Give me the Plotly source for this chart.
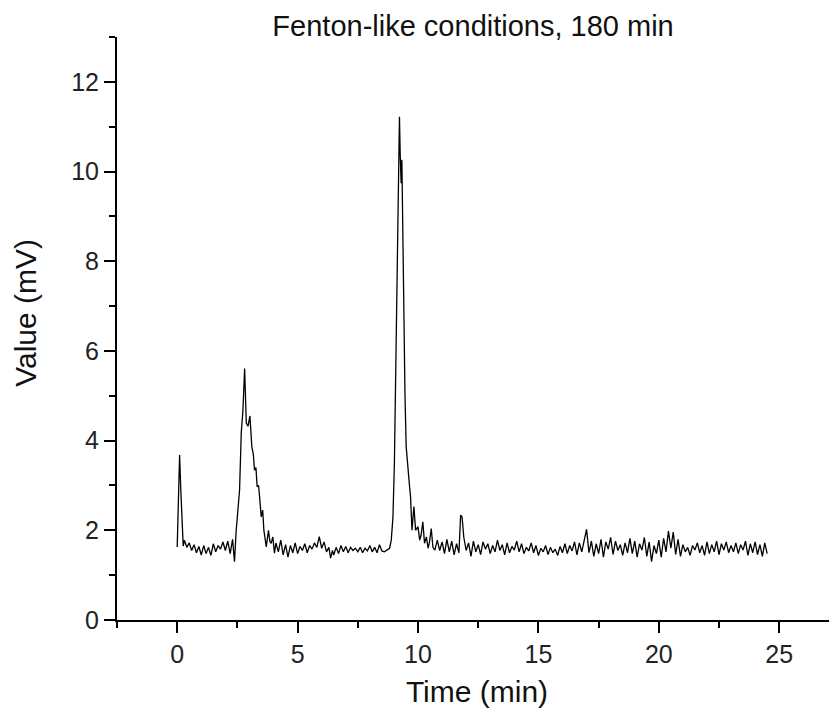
import plotly.graph_objects as go

# retention time (min) and detector signal (mV)
time_min = [
    0.0, 0.05, 0.1, 0.15, 0.2, 0.25, 0.3,
    0.4, 0.5, 0.6, 0.7, 0.8, 0.9, 1.0, 1.1, 1.2, 1.3, 1.4, 1.5, 1.6, 1.7, 1.8, 1.9,
    2.0, 2.1, 2.2, 2.3, 2.38,
    2.45, 2.52, 2.59, 2.66, 2.73, 2.8, 2.87, 2.94, 3.02, 3.1, 3.16, 3.21, 3.27, 3.32,
    3.38, 3.42, 3.49, 3.55, 3.6, 3.7, 3.79, 3.85, 3.9, 3.97, 4.04,
    4.1, 4.2, 4.3, 4.4, 4.5, 4.6, 4.7, 4.8, 4.9, 5.0, 5.1, 5.2, 5.3, 5.4, 5.5, 5.6,
    5.7, 5.8, 5.9, 6.0, 6.1, 6.2, 6.3, 6.37, 6.45, 6.5, 6.6, 6.7, 6.8, 6.9, 7.0,
    7.1, 7.2, 7.3, 7.4, 7.5, 7.6, 7.7, 7.8, 7.9, 8.0, 8.1, 8.2, 8.3, 8.4, 8.5, 8.6,
    8.7, 8.82, 8.89, 8.96, 9.02, 9.09, 9.16, 9.2, 9.23, 9.26, 9.3, 9.33, 9.37, 9.41,
    9.46, 9.51, 9.58, 9.65, 9.69, 9.75, 9.83, 9.9, 10.0, 10.07, 10.13, 10.2, 10.27,
    10.35, 10.42, 10.48, 10.55, 10.62, 10.7, 10.8, 10.9, 11.0, 11.1, 11.2, 11.3,
    11.4, 11.5, 11.6, 11.7, 11.77, 11.83, 11.9, 12.0, 12.1, 12.2, 12.3, 12.4, 12.5,
    12.6, 12.7, 12.8, 12.9, 13.0, 13.1, 13.2, 13.3, 13.4, 13.5, 13.6, 13.7, 13.8,
    13.9, 14.0, 14.1, 14.2, 14.3, 14.4, 14.5, 14.6, 14.7, 14.8, 14.9, 15.0, 15.1,
    15.2, 15.3, 15.4, 15.5, 15.6, 15.7, 15.8, 15.9, 16.0, 16.1, 16.2, 16.3, 16.4,
    16.5, 16.6, 16.7, 16.8, 16.9, 17.0, 17.1, 17.2, 17.3, 17.4, 17.5, 17.6, 17.7,
    17.8, 17.9, 18.0, 18.1, 18.2, 18.3, 18.4, 18.5, 18.6, 18.7, 18.8, 18.9, 19.0,
    19.1, 19.2, 19.3, 19.4, 19.5, 19.6, 19.7, 19.8, 19.9, 20.0, 20.1, 20.2, 20.3,
    20.4, 20.5, 20.6, 20.7, 20.8, 20.9, 21.0, 21.1, 21.2, 21.3, 21.4, 21.5, 21.6,
    21.7, 21.8, 21.9, 22.0, 22.1, 22.2, 22.3, 22.4, 22.5, 22.6, 22.7, 22.8, 22.9,
    23.0, 23.1, 23.2, 23.3, 23.4, 23.5, 23.6, 23.7, 23.8, 23.9, 24.0, 24.1, 24.2,
    24.3, 24.4, 24.5,
]
signal_mv = [
    1.63, 2.6, 3.68, 2.9, 2.4, 1.65, 1.78,
    1.62, 1.72, 1.55, 1.68, 1.50, 1.64, 1.45, 1.66, 1.48, 1.62, 1.44, 1.70, 1.52, 1.66, 1.58, 1.74,
    1.55, 1.76, 1.48, 1.80, 1.30,
    2.0, 2.4, 2.9, 4.17, 4.68, 5.61, 4.39, 4.32, 4.55, 3.86, 3.7, 3.34, 3.4, 2.97,
    3.0, 2.75, 2.30, 2.45, 2.0, 1.63, 2.0, 1.75, 1.71, 1.85, 1.49,
    1.72, 1.52, 1.78, 1.45, 1.68, 1.40, 1.66, 1.50, 1.72, 1.48, 1.64, 1.55, 1.70, 1.50, 1.66, 1.58,
    1.72, 1.62, 1.86, 1.60, 1.74, 1.52, 1.62, 1.38, 1.55, 1.45, 1.62, 1.48, 1.66, 1.52, 1.64,
    1.50, 1.62, 1.55, 1.60, 1.52, 1.62, 1.50, 1.60, 1.54, 1.66, 1.52, 1.62, 1.50, 1.68, 1.54, 1.52,
    1.56, 1.60, 1.78, 2.3, 3.5, 6.3, 9.0, 10.6, 11.22, 10.4, 9.74, 10.26, 8.32, 6.3,
    5.0, 3.86, 3.3, 2.97, 2.75, 2.0, 2.53, 2.0, 2.08, 1.78, 1.9, 2.19, 1.71,
    1.85, 1.60, 1.75, 2.04, 1.62, 1.56, 1.78, 1.55, 1.74, 1.48, 1.80, 1.52,
    1.76, 1.45, 1.70, 1.50, 2.34, 2.30, 1.85, 1.55, 1.72, 1.42, 1.76, 1.52, 1.68,
    1.46, 1.74, 1.58, 1.70, 1.48, 1.66, 1.52, 1.78, 1.55, 1.68, 1.45, 1.72, 1.50,
    1.64, 1.56, 1.76, 1.52, 1.70, 1.48, 1.62, 1.54, 1.72, 1.50, 1.66, 1.44, 1.60,
    1.52, 1.66, 1.46, 1.62, 1.50, 1.58, 1.44, 1.64, 1.50, 1.70, 1.48, 1.66, 1.54,
    1.74, 1.45, 1.72, 1.52, 1.78, 2.02, 1.50, 1.76, 1.42, 1.70, 1.48, 1.80, 1.40,
    1.74, 1.58, 1.84, 1.46, 1.76, 1.55, 1.68, 1.44, 1.72, 1.50, 1.82, 1.48, 1.76,
    1.40, 1.70, 1.56, 1.84, 1.42, 1.74, 1.30, 1.66, 1.48, 1.78, 1.40, 1.82, 1.52,
    1.98, 1.60, 1.96, 1.46, 1.80, 1.42, 1.68, 1.52, 1.62, 1.44, 1.66, 1.56, 1.72,
    1.50, 1.66, 1.44, 1.74, 1.48, 1.68, 1.52, 1.76, 1.46, 1.70, 1.56, 1.74, 1.50,
    1.66, 1.52, 1.72, 1.48, 1.68, 1.56, 1.76, 1.44, 1.70, 1.50, 1.74, 1.46, 1.68,
    1.42, 1.72, 1.48,
]

FONT = "Arial, Liberation Sans, sans-serif"

fig = go.Figure()
fig.add_trace(go.Scatter(x=time_min, y=signal_mv, mode='lines',
                         line=dict(color='black', width=1.3), showlegend=False))

axis_style = dict(showline=True, linecolor='black', linewidth=2, showgrid=False, zeroline=False,
                  ticks='outside', ticklen=11, tickwidth=2, tickcolor='black',
                  tickfont=dict(family=FONT, size=25, color='#222'))

fig.update_xaxes(range=[-2.5, 27.4], dtick=5, tick0=0,
                 minor=dict(ticks='outside', ticklen=6, tickwidth=2, tickcolor='black', dtick=2.5, tick0=0),
                 title=dict(text='Time (min)', font=dict(family=FONT, size=30, color='#111'), standoff=14),
                 **axis_style)
fig.update_yaxes(range=[0, 13], dtick=2, tick0=0,
                 minor=dict(ticks='outside', ticklen=6, tickwidth=2, tickcolor='black', dtick=1, tick0=0),
                 **axis_style)

# y title sits a little above the axis centre in the original, so place it by hand
fig.add_annotation(text='Value (mV)', textangle=-90, xref='paper', yref='paper',
                   x=0, y=0.527, xanchor='center', yanchor='middle', xshift=-91, showarrow=False,
                   font=dict(family=FONT, size=30, color='#111'))

# page body adds 8px on the left/top, so the figure is shrunk by that much
fig.update_layout(
    title=dict(text='Fenton-like conditions, 180 min', x=0.561, xanchor='center',
               y=0.974, yanchor='middle', font=dict(family=FONT, size=29, color='#111')),
    width=829, height=704,
    margin=dict(l=109, r=0, t=29, b=92),
    plot_bgcolor='white', paper_bgcolor='white',
)

fig.write_html("out.html")
